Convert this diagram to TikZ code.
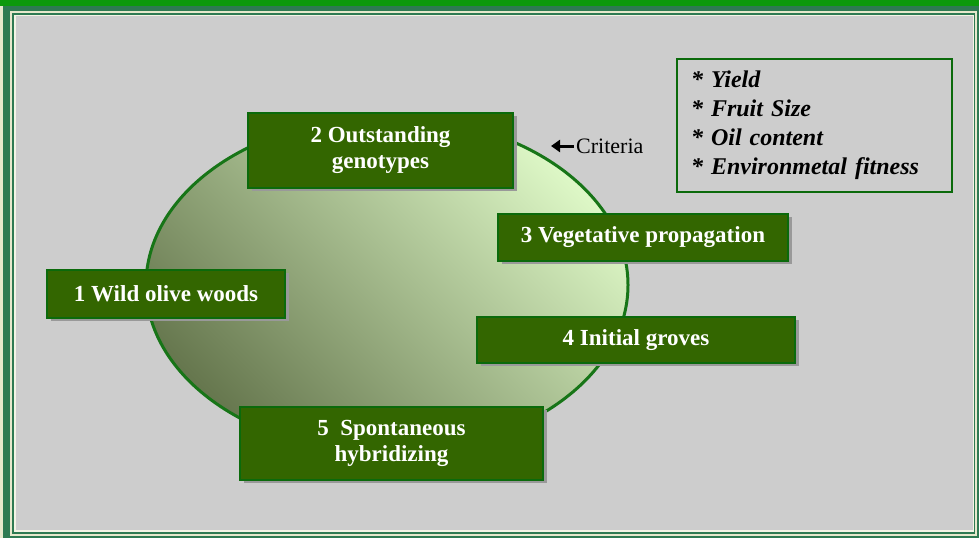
\documentclass[tikz,border=0pt]{standalone}
\usepackage{fontspec}
\setmainfont{Liberation Serif}
\usetikzlibrary{shadows,arrows.meta}
\definecolor{framegreen}{HTML}{2E7A52}
\definecolor{topgreen}{HTML}{0C990C}
\definecolor{panelgray}{HTML}{CDCDCD}
\definecolor{cream}{HTML}{E6E8CC}
\definecolor{boxgreen}{HTML}{336600}
\definecolor{boxedge}{HTML}{0B6A0B}
\definecolor{ringgreen}{HTML}{177517}
\definecolor{olivedark}{HTML}{66774E}
\definecolor{olivemid}{HTML}{BBD5A2}
\definecolor{olivelight}{HTML}{DDF7C6}

\begin{document}
\begin{tikzpicture}[x=1pt, y=-1pt, >=Stealth,
    stage/.style={draw=boxedge, line width=2pt, fill=boxgreen, text=white,
        font=\fontsize{23}{26}\selectfont\bfseries, align=center, inner sep=0pt,
        drop shadow={shadow xshift=4pt, shadow yshift=-3pt, fill=black!40, opacity=1}},
    traitbox/.style={draw=boxedge, line width=2.5pt, align=left,
        font=\fontsize{24}{29}\selectfont\bfseries\itshape,
        inner xsep=14pt, text width=247pt, minimum width=275pt, minimum height=133pt}]
    \useasboundingbox (0,0) rectangle (979,538);

    % frame
    \fill[cream] (0,0) rectangle (979,538);
    \fill[topgreen] (0,0) rectangle (979,6);
    \fill[framegreen] (3,6) rectangle (979,538);
    \fill[cream] (10,10.5) rectangle (977,535.5);
    \fill[framegreen] (12,12.5) rectangle (975,533.5);
    \fill[cream!50] (14,14.5) rectangle (973.5,531.5);
    \fill[panelgray] (15.5,16) rectangle (972.5,530);

    % the cycle
    \draw[ringgreen, line width=3pt, shading=axis, bottom color=olivedark,
        middle color=olivemid, top color=olivelight, shading angle=-45]
        (387,285) ellipse [x radius=241pt, y radius=168pt];

    \node[stage, minimum width=265pt, minimum height=75pt] (outstanding) at (380.5,150.5) {2 Outstanding\\genotypes};
    \node[stage, minimum width=238pt, minimum height=48pt] (wild) at (166,294) {1 Wild olive woods};
    \node[stage, minimum width=290pt, minimum height=47pt] (vegetative) at (643,237.5) {3 Vegetative propagation};
    \node[stage, minimum width=318pt, minimum height=46pt] (groves) at (636,340) {4 Initial groves};
    \node[stage, minimum width=303pt, minimum height=73pt] (hybrid) at (391.5,443.5) {5\enspace Spontaneous\\hybridizing};

    % selection criteria
    \node[font=\fontsize{22}{24}\selectfont, inner sep=2pt, anchor=west] (criteria) at (574,146) {Criteria};
    \coordinate (critpoint) at (551,146);
    \draw[-{Triangle[length=9pt,width=12pt]}, line width=3pt] (criteria.west) -- (critpoint);

    \node[traitbox] (traits) at (814.5,125.5)
        {{*} Yield\\{*} Fruit Size\\{*} Oil content\\{*} Environmetal fitness};
\end{tikzpicture}
\end{document}
